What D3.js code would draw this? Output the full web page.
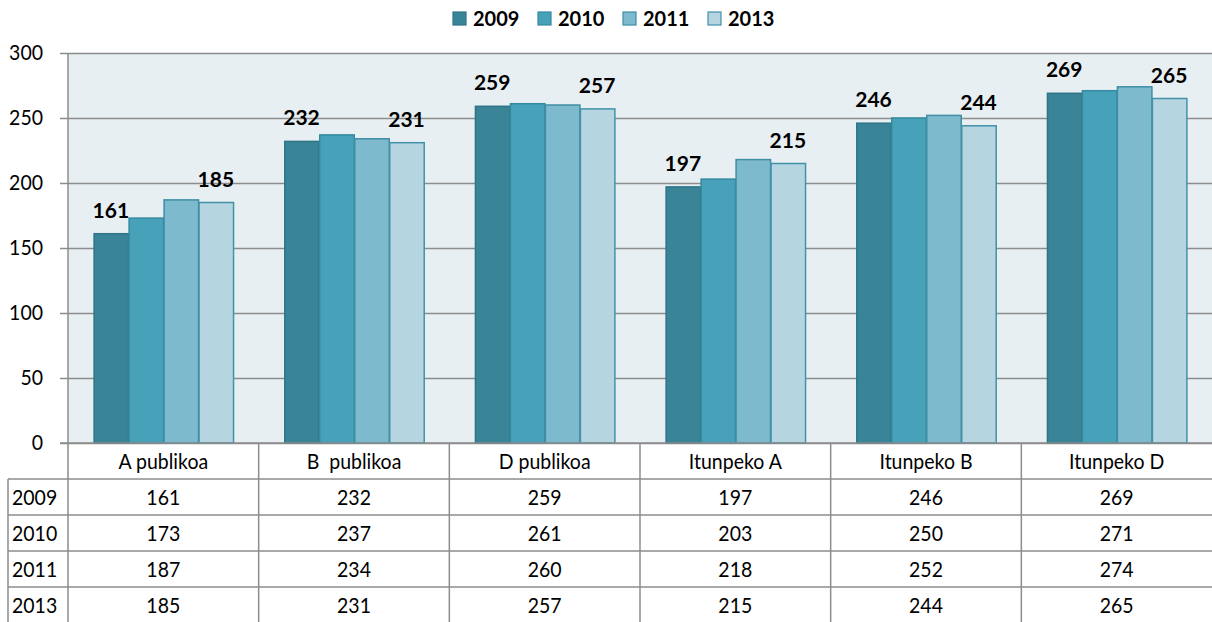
<!DOCTYPE html>
<html>
<head>
<meta charset="utf-8">
<script src="https://cdn.jsdelivr.net/npm/d3@7"></script>
<style>
  html, body { margin: 0; padding: 0; background: #ffffff; }
  svg { display: block; }
  text { font-family: Lato, "Open Sans", sans-serif; fill: #000; }
</style>
</head>
<body>
<svg id="chart" width="1212" height="622"></svg>
<script>
// ---- data ----
const categories = ["A publikoa", "B  publikoa", "D publikoa", "Itunpeko A", "Itunpeko B", "Itunpeko D"];
const seriesNames = ["2009", "2010", "2011", "2013"];
const values2009 = [161, 232, 259, 197, 246, 269];
const values2010 = [173, 237, 261, 203, 250, 271];
const values2011 = [187, 234, 260, 218, 252, 274];
const values2013 = [185, 231, 257, 215, 244, 265];
const yTicks = [0, 50, 100, 150, 200, 250, 300];
const labelledSeries = ["2009", "2013"];

const seriesValues = [values2009, values2010, values2011, values2013];
const colors = ["#3a8498", "#47a2b9", "#7ebace", "#b5d5e0"];
const strokes = ["#2f7487", "#358a9f", "#3f8ea4", "#4392a8"];

// ---- layout ----
const W = 1212, H = 622;
const plot = { left: 68, right: 1212, top: 53, bottom: 443 };
const rowH = 36;
const tableLeft = 8;
const textStretch = 1.1;

const svg = d3.select("#chart");

const x0 = d3.scaleBand().domain(categories).range([plot.left, plot.right])
  .paddingInner(0.266).paddingOuter(0.133);
const x1 = d3.scaleBand().domain(seriesNames).range([0, x0.bandwidth()]).padding(0);
const y = d3.scaleLinear().domain([0, 300]).range([plot.bottom, plot.top]);
const colStep = (plot.right - plot.left) / categories.length;

// background
svg.append("rect").attr("x", plot.left).attr("y", plot.top)
  .attr("width", plot.right - plot.left).attr("height", plot.bottom - plot.top)
  .attr("fill", "#e8eff3");

// gridlines + axis
const yAxis = d3.axisLeft(y).tickValues(yTicks).tickSize(8).tickPadding(14).tickFormat(d3.format("d"));
const gAxis = svg.append("g").attr("transform", `translate(${plot.left},0)`).call(yAxis);
gAxis.select(".domain").remove();
gAxis.selectAll(".tick line").attr("stroke", "#8c8c8c").attr("stroke-width", 1.5);
gAxis.selectAll(".tick text").attr("font-size", 19.5).attr("font-family", "Lato, sans-serif").attr("fill", "#000")
  .attr("x", null).attr("dy", null)
  .attr("transform", `translate(-25,0) scale(1,${textStretch}) translate(0,6)`);
gAxis.selectAll(".tick").append("line")
  .attr("x1", 0).attr("x2", plot.right - plot.left)
  .attr("stroke", "#8c8c8c").attr("stroke-width", 1.5);

// bars
const groups = svg.append("g").selectAll("g").data(categories).join("g")
  .attr("transform", d => `translate(${x0(d)},0)`);
groups.selectAll("rect")
  .data((c, ci) => seriesNames.map((s, si) => ({ s, si, v: seriesValues[si][ci] })))
  .join("rect")
  .attr("x", d => x1(d.s) + 0.75)
  .attr("width", x1.bandwidth() - 0.5)
  .attr("y", d => y(d.v))
  .attr("height", d => y(0) - y(d.v))
  .attr("fill", d => colors[d.si])
  .attr("stroke", d => strokes[d.si])
  .attr("stroke-width", 1.5);

// data labels
groups.selectAll("text.lbl")
  .data((c, ci) => seriesNames.map((s, si) => ({ s, si, v: seriesValues[si][ci] }))
    .filter(d => labelledSeries.includes(d.s)))
  .join("text").attr("class", "lbl")
  .attr("x", d => x1(d.s) + x1.bandwidth() / 2)
  .attr("y", d => y(d.v) - 16)
  .attr("text-anchor", "middle")
  .attr("font-size", 21).attr("font-weight", "bold")
  .text(d => d.v);

// y axis line (extends through table)
svg.append("line").attr("x1", plot.left).attr("x2", plot.left)
  .attr("y1", plot.top).attr("y2", H)
  .attr("stroke", "#8c8c8c").attr("stroke-width", 1.5);
// x axis line
svg.append("line").attr("x1", plot.left - 8).attr("x2", plot.right)
  .attr("y1", plot.bottom).attr("y2", plot.bottom)
  .attr("stroke", "#8c8c8c").attr("stroke-width", 1.5);

// ---- data table ----
const table = svg.append("g");
const lineColor = "#8c8c8c";
function cellText(x, yC, str, anchor) {
  table.append("text")
    .attr("transform", `translate(${x},${yC}) scale(1,${textStretch})`)
    .attr("dy", "0.36em").attr("text-anchor", anchor)
    .attr("font-size", 19.5).attr("xml:space", "preserve")
    .style("white-space", "pre")
    .text(str);
}
// horizontal lines
for (let r = 1; r <= seriesNames.length; r++) {
  const yy = plot.bottom + r * rowH;
  table.append("line").attr("x1", tableLeft).attr("x2", plot.right)
    .attr("y1", yy).attr("y2", yy).attr("stroke", lineColor).attr("stroke-width", 1.5);
}
// vertical lines
table.append("line").attr("x1", tableLeft).attr("x2", tableLeft)
  .attr("y1", plot.bottom + rowH).attr("y2", H).attr("stroke", lineColor).attr("stroke-width", 1.5);
categories.forEach((c, i) => {
  if (i === 0) return;
  const xx = plot.left + i * colStep;
  table.append("line").attr("x1", xx).attr("x2", xx)
    .attr("y1", plot.bottom).attr("y2", H).attr("stroke", lineColor).attr("stroke-width", 1.5);
});
// header labels
categories.forEach((c, i) => {
  cellText(plot.left + (i + 0.5) * colStep, plot.bottom + rowH / 2, c, "middle");
});
// rows
seriesNames.forEach((s, si) => {
  const cy = plot.bottom + (si + 1.5) * rowH;
  cellText(tableLeft + 4, cy, s, "start");
  categories.forEach((c, ci) => {
    cellText(plot.left + (ci + 0.5) * colStep, cy, seriesValues[si][ci], "middle");
  });
});

// ---- legend ----
const legendItemW = 85;
const legendStart = 620 - (legendItemW * seriesNames.length) / 2 + 3;
const legend = svg.append("g");
seriesNames.forEach((s, i) => {
  const lx = legendStart + i * legendItemW;
  legend.append("rect").attr("x", lx).attr("y", 12).attr("width", 13).attr("height", 13)
    .attr("fill", colors[i]).attr("stroke", strokes[i]).attr("stroke-width", 1.2);
  legend.append("text").attr("x", lx + 20).attr("y", 18.5).attr("dy", "0.35em")
    .attr("font-size", 20).attr("font-weight", "bold").text(s);
});
</script>
</body>
</html>
